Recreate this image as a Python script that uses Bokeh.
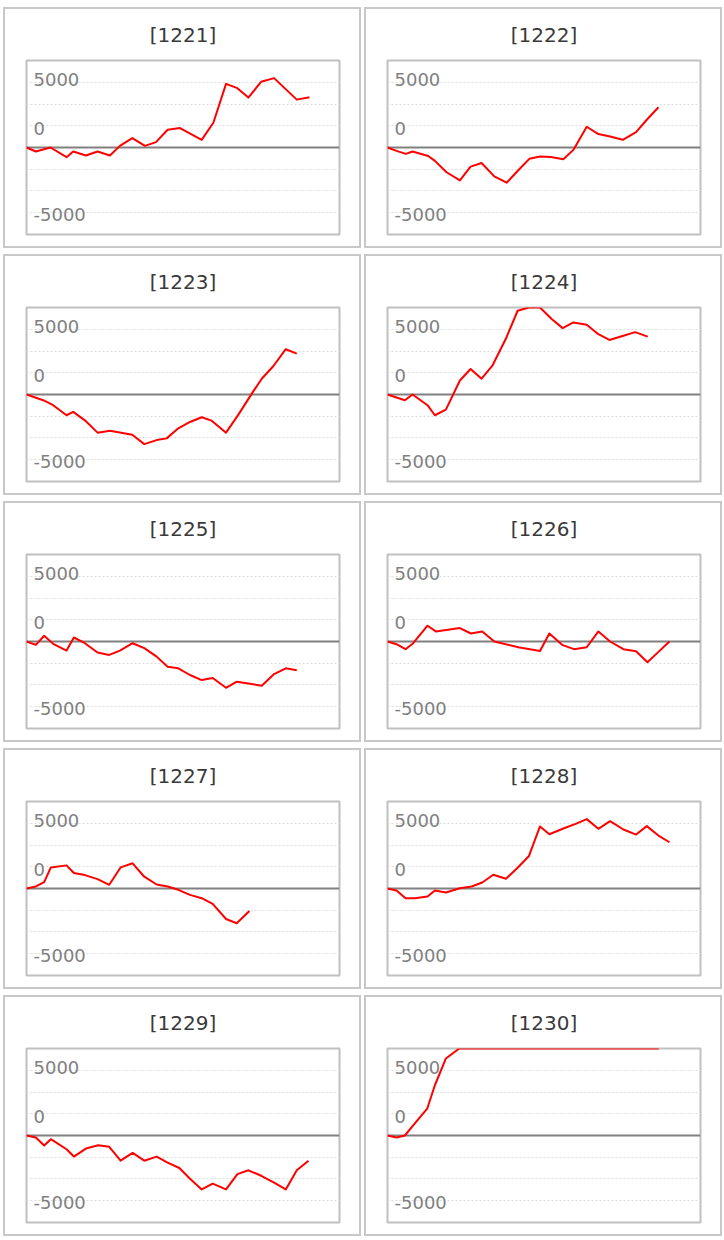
from bokeh.plotting import figure
from bokeh.layouts import column, row
from bokeh.models import Span, Grid, FixedTicker, Range1d
from bokeh.embed import file_html
from bokeh.resources import INLINE
from bokeh.core.properties import value

# ---------------- data ----------------
NAMES = ["[1221]", "[1222]", "[1223]", "[1224]", "[1225]",
         "[1226]", "[1227]", "[1228]", "[1229]", "[1230]"]

X_1221 = [0, 280, 720, 1200, 1400, 1780, 2130, 2500, 2800, 3170, 3550, 3880, 4230, 4600, 5250, 5600, 5980, 6300, 6650, 7030, 7420, 8100, 8480]
Y_1221 = [0, -370, 0, -900, -370, -740, -370, -740, 150, 870, 150, 500, 1640, 1800, 710, 2290, 5890, 5520, 4620, 6080, 6420, 4430, 4650]

X_1222 = [0, 270, 550, 750, 1220, 1420, 1770, 2170, 2490, 2820, 3200, 3570, 3920, 4250, 4570, 4900, 5270, 5570, 5970, 6320, 6670, 7050, 7450, 7770, 8120]
Y_1222 = [0, -310, -590, -370, -780, -1240, -2290, -3040, -1770, -1430, -2670, -3260, -2110, -1050, -840, -870, -1090, -220, 1920, 1240, 1020, 710, 1430, 2570, 3720]

X_1223 = [0, 500, 800, 1200, 1400, 1750, 2130, 2500, 3170, 3530, 3900, 4200, 4550, 4900, 5250, 5550, 5980, 6350, 6800, 7050, 7400, 7770, 8100]
Y_1223 = [0, -530, -990, -1920, -1610, -2390, -3530, -3350, -3720, -4590, -4220, -4060, -3130, -2540, -2110, -2420, -3530, -1860, 310, 1460, 2640, 4190, 3780]

X_1224 = [0, 520, 750, 1200, 1420, 1750, 2170, 2490, 2820, 3150, 3550, 3900, 4240, 4570, 4920, 5250, 5570, 5970, 6320, 6650, 7070, 7420, 7800]
Y_1224 = [0, -530, 0, -990, -1920, -1400, 1300, 2360, 1460, 2700, 5180, 7750, 8050, 8050, 6980, 6140, 6670, 6450, 5580, 5050, 5430, 5770, 5360]

X_1225 = [0, 280, 530, 800, 1200, 1420, 1750, 2130, 2480, 2800, 3180, 3530, 3900, 4230, 4550, 4900, 5250, 5580, 5980, 6300, 6700, 7050, 7420, 7770, 8100]
Y_1225 = [0, -310, 530, -220, -840, 370, -160, -1020, -1240, -840, -160, -620, -1400, -2330, -2480, -3100, -3570, -3380, -4280, -3720, -3910, -4090, -3010, -2480, -2670]

X_1226 = [0, 270, 540, 770, 1200, 1450, 2170, 2500, 2840, 3200, 3920, 4570, 4850, 5250, 5590, 5970, 6320, 6670, 7070, 7450, 7790, 8120, 8450]
Y_1226 = [0, -250, -710, -160, 1460, 930, 1240, 740, 930, 0, -530, -870, 740, -340, -710, -530, 930, 0, -710, -900, -1920, -960, 0]

X_1227 = [0, 280, 530, 730, 1200, 1420, 1750, 2130, 2480, 2820, 3180, 3530, 3900, 4230, 4550, 4900, 5250, 5580, 5980, 6300, 6680]
Y_1227 = [0, 190, 590, 1950, 2140, 1430, 1240, 870, 340, 1950, 2330, 1090, 370, 190, -120, -590, -900, -1430, -2820, -3220, -2080]

X_1228 = [0, 270, 540, 820, 1200, 1420, 1750, 2170, 2520, 2840, 3170, 3550, 3900, 4240, 4570, 4850, 5270, 5640, 5970, 6320, 6670, 7070, 7450, 7770, 8120, 8450]
Y_1228 = [0, -190, -900, -900, -740, -190, -370, 30, 190, 560, 1270, 900, 1920, 3010, 5740, 5020, 5550, 5980, 6420, 5520, 6230, 5460, 4990, 5770, 4900, 4280]

X_1229 = [0, 280, 530, 730, 1200, 1420, 1780, 2150, 2480, 2820, 3180, 3530, 3900, 4230, 4580, 4900, 5250, 5580, 5980, 6320, 6650, 7050, 7420, 7770, 8100, 8450]
Y_1229 = [0, -190, -930, -340, -1270, -1950, -1210, -900, -1050, -2330, -1610, -2330, -1950, -2510, -3010, -4000, -4990, -4460, -4990, -3570, -3220, -3750, -4370, -4990, -3220, -2330]

X_1230 = [0, 270, 520, 770, 1190, 1420, 1750, 2150, 3270, 4470, 5670, 6870, 8130]
Y_1230 = [0, -190, 0, 930, 2480, 4650, 7130, 8050, 8050, 8050, 8050, 8050, 8050]

SERIES_X = [X_1221, X_1222, X_1223, X_1224, X_1225, X_1226, X_1227, X_1228, X_1229, X_1230]
SERIES_Y = [Y_1221, Y_1222, Y_1223, Y_1224, Y_1225, Y_1226, Y_1227, Y_1228, Y_1229, Y_1230]

X_RANGE = (0, 9380)
Y_RANGE = (-8050, 8050)
GRID_TICKS = [-6000, -4000, -2000, 2000, 4000, 6000]
TICK_TEXT = ["5000", "0", "-5000"]
TICK_POS = [6250, 1760, -6220]

# ---------------- styling ----------------
W, H = 358, 241
FONT = "DejaVu Sans"


def panel(name, xs, ys):
    p = figure(width=W, height=H, output_backend="svg", toolbar_location=None,
               x_range=Range1d(*X_RANGE), y_range=Range1d(*Y_RANGE),
               x_axis_location=None, y_axis_location=None,
               min_border_left=23, min_border_right=22,
               min_border_top=53, min_border_bottom=14,
               title=name)
    p.grid.visible = False
    p.title.align = "center"
    p.title.text_font = FONT
    p.title.text_font_size = "20px"
    p.title.text_font_style = "normal"
    p.title.text_color = "#3a3a3a"
    p.title.standoff = 27
    p.outline_line_color = "#c0c0c0"
    p.outline_line_width = 2
    p.background_fill_color = "white"
    p.border_fill_alpha = 0
    p.styles = {"box-shadow": "inset 0 0 0 2px #c8c8c8", "background-color": "white"}

    g = Grid(dimension=1, ticker=FixedTicker(ticks=GRID_TICKS),
             grid_line_color="#dcdcdc", grid_line_dash="2 2", grid_line_width=1)
    p.add_layout(g)
    p.add_layout(Span(location=0, dimension="width", line_color="#808080",
                      line_width=2, level="underlay"))

    p.text(x=[X_RANGE[0]] * len(TICK_TEXT), y=TICK_POS, text=TICK_TEXT,
           x_offset=7, text_baseline="alphabetic", text_align="left",
           text_font=value(FONT), text_font_size="18px", text_color="#808080")

    p.line(xs, ys, line_color="#ff0000", line_width=2, line_join="round")
    return p


figs = [panel(n, x, y) for n, x, y in zip(NAMES, SERIES_X, SERIES_Y)]
rows = [row(figs[i], figs[i + 1], spacing=3) for i in range(0, 10, 2)]
layout = column(*rows, spacing=6, margin=(7, 0, 0, 3))

open("out.html", "w").write(file_html(layout, INLINE))
